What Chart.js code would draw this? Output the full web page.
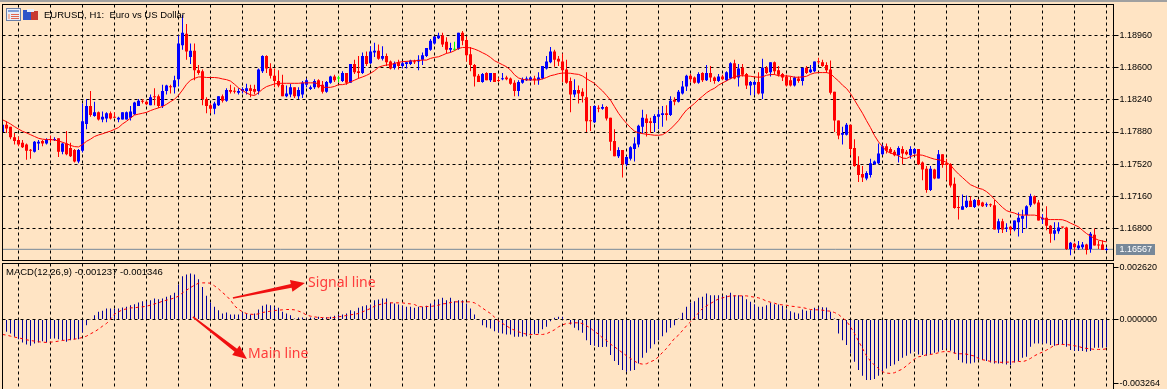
<!DOCTYPE html>
<html><head><meta charset="utf-8">
<style>
html,body{margin:0;padding:0;width:1167px;height:389px;overflow:hidden;background:#ffe4c4}
canvas{position:absolute;left:0}
#c1{top:0}#c2{top:261px}
#strip{position:absolute;left:0;top:0;width:1167px;height:2px;background:#a0a0a0}
.t{position:absolute;font:9.5px "Liberation Sans",sans-serif;color:#000;white-space:pre;line-height:14px}
#ic{position:absolute;left:6px;top:8px}
</style></head><body>
<canvas id="c1" width="1167" height="262"></canvas>
<canvas id="c2" width="1167" height="139"></canvas>
<div id="strip"></div>
<svg id="ic" width="33" height="14" viewBox="0 0 33 14">
<rect x=".5" y=".5" width="14" height="12" fill="#e8eef8" stroke="#6b7fa8"/><rect x="2" y="2" width="11" height="2" fill="#7f9fd8"/>
<path d="M5 6.5h8M5 8.5h8M5 10.5h8" stroke="#e2654f"/><path d="M2 6h2v5h-2z" fill="#f2b8a8"/>
<rect x="17" y="2" width="8" height="10" fill="#2f55c8"/><rect x="25" y="3" width="7" height="9" fill="#c83a30"/><rect x="21" y="1" width="7" height="3" fill="#e8eef8"/>
</svg>
<div class="t" style="left:44px;top:8px">EURUSD, H1:  Euro vs US Dollar</div>
<div class="t" style="left:6px;top:265px">MACD(12,26,9) -0.001237 -0.001346</div>
<script src="https://cdn.jsdelivr.net/npm/chart.js@4"></script>
<script>
// Prices are stored as pips above 1.16000; MACD values as millionths.
const priceBase = 1.16;
const priceTicks = [1.1896,1.186,1.1824,1.1788,1.1752,1.1716,1.168];
const macdTicks = [0.00262,0,-0.003264];
const bidPrice = 1.16567;
const bidLabel = "1.16567";

const openPips = [188,196,194,182,179,176,174,168,166,175,178,175,180,179,181,166,175,170,168,155,167,197,217,206,210,
202,203,209,205,202,202,202,204,208,217,223,222,218,228,228,217,234,239,238,247,285,298,272,279,257,
256,225,218,214,218,228,223,235,234,232,234,234,237,236,234,256,273,259,251,245,241,228,230,238,228,
230,241,236,238,246,241,233,243,250,248,245,254,243,264,256,254,273,265,277,279,270,273,267,260,266,
262,264,264,267,267,269,273,280,287,293,296,289,280,280,281,299,291,275,263,251,244,254,246,254,246,
247,249,248,243,234,243,246,246,248,246,248,259,266,278,270,267,258,245,230,235,233,227,201,199,215,
214,216,204,178,161,168,152,158,169,174,194,203,200,198,205,207,209,207,224,222,231,239,251,249,243,
254,246,254,249,245,250,246,248,265,249,260,253,240,241,244,231,260,255,266,257,253,250,246,240,248,
245,260,255,256,267,266,263,258,233,201,185,185,196,170,151,141,136,140,152,153,163,172,169,166,162,
169,166,162,164,169,154,147,123,146,136,163,153,152,130,104,101,104,111,104,112,109,106,107,106,79,
88,80,82,79,87,91,95,106,116,109,90,92,83,74,77,82,81,57,63,58,59,62,57,73,62,62,56];
const closePips = [196,192,182,178,174,171,167,167,177,177,175,180,179,180,166,175,163,161,155,168,200,217,207,210,202,
205,209,203,204,204,210,210,211,221,223,222,219,227,227,217,234,240,238,246,287,299,278,279,257,254,
225,217,214,220,228,223,235,233,233,234,236,237,234,233,258,273,259,251,245,240,228,231,238,228,235,
243,246,238,245,238,233,244,250,246,248,254,243,264,255,254,273,264,278,279,270,273,266,259,265,262,
265,266,268,266,269,274,282,290,295,296,286,280,282,280,299,290,274,263,250,244,253,246,254,244,245,
248,247,242,234,244,247,248,249,246,249,262,267,278,269,267,257,243,230,235,231,228,200,200,217,214,
216,203,177,161,168,152,160,171,175,195,204,198,198,206,208,209,207,223,222,233,239,251,247,243,253,
246,254,249,245,250,247,255,265,248,259,252,240,244,244,231,260,254,266,256,252,249,240,240,249,245,
260,254,258,267,266,262,257,232,201,184,187,196,169,150,140,137,142,153,155,164,172,167,165,162,170,
164,163,169,169,152,146,123,147,136,163,151,151,128,103,103,105,111,104,112,106,105,107,106,79,88,
79,81,79,89,92,94,105,116,108,89,92,83,74,78,81,81,57,64,59,61,62,56,74,61,61,56,57];
const highPips = [197,200,194,187,183,179,175,169,178,179,179,181,184,182,181,176,189,176,169,169,220,225,234,222,211,
211,210,211,210,205,210,211,217,222,225,225,223,230,237,230,241,241,241,251,296,319,309,287,287,263,
258,227,220,222,228,230,237,241,238,237,238,242,241,241,259,274,274,265,259,257,252,240,242,238,238,
245,248,240,247,247,245,245,251,252,251,256,254,264,269,273,277,278,284,288,286,284,276,268,267,269,
267,267,269,269,274,277,282,292,295,299,299,294,288,289,299,301,295,283,264,253,254,255,254,254,249,
254,251,249,246,246,249,250,250,251,255,262,273,283,280,273,276,269,249,247,240,237,255,217,218,218,
219,217,204,191,171,168,161,172,182,196,213,208,204,208,213,217,218,228,227,235,245,252,253,250,255,
255,263,262,250,253,252,256,266,269,264,264,254,245,246,255,270,262,266,267,262,254,252,250,250,250,
260,262,263,267,271,269,266,268,233,201,194,198,196,180,161,150,144,158,156,175,174,175,171,168,172,
172,168,172,170,169,155,150,150,147,168,163,158,153,137,116,118,117,116,113,113,110,109,108,112,91,
91,86,83,89,98,101,106,119,117,112,96,105,84,87,87,82,82,65,64,66,65,63,76,80,66,67,59];
const lowPips = [187,187,180,174,172,170,157,158,165,168,172,174,176,178,160,163,162,160,154,153,165,191,205,205,201,
199,199,202,204,199,202,202,201,207,217,220,218,218,218,215,215,230,231,231,239,280,269,264,246,252,
218,209,209,208,217,221,222,231,231,230,231,230,227,230,230,254,254,248,238,238,228,227,227,226,225,
226,238,235,236,237,231,232,242,244,244,244,241,243,253,248,253,262,264,272,269,268,262,258,258,258,
259,259,263,264,257,263,272,279,286,292,283,276,277,279,280,285,267,256,239,244,243,246,244,244,244,
246,246,241,228,228,242,245,245,241,241,247,258,265,261,262,244,242,210,227,220,221,188,189,198,210,
213,201,167,161,159,137,150,156,155,171,186,183,187,188,191,194,201,206,218,221,230,234,244,242,242,
244,245,244,242,244,246,245,247,247,239,250,236,229,229,230,225,253,250,252,250,245,239,239,239,243,
240,253,254,255,264,261,254,230,188,180,174,184,162,149,132,132,134,137,151,152,162,164,164,161,154,
152,162,158,163,151,134,120,122,135,136,148,134,126,102,90,101,103,104,103,105,104,104,104,79,75,
75,76,74,77,71,75,80,104,107,89,85,78,64,67,74,80,56,50,55,56,57,51,53,61,57,56,55];
const maPips = [201.7,199.5,197,194,191.3,188.8,187,185,183,181,180,179.5,179.5,179,178,176.5,175,173,171.7,171.3,174,177.6,180,183,184.7,
186,187.6,189,191,193,197,200,203.6,207,208,209,210,212,213.6,215,216.6,219,222,224.7,229,235,241.4,246,248,249.6,
249.6,249,249,249,248.5,247.4,246.6,245,241.4,237.4,234.4,231.8,229.6,228.8,232,235.9,238.8,240.3,241.8,242.5,242.5,242.5,242.5,242.5,242.5,
243,243,243,243,242,238,238,238,239,241,241,242,244,246,248,249.6,251.4,253.7,256.6,260.4,262,263,263.3,264.8,266,
266.7,267,267.4,267.8,268,268.5,268.5,270.4,271.5,272.2,274,276,277,279,281.5,282.6,282.6,282.2,280.8,279,276.7,274.5,271.5,267.8,265.5,
263.3,261,257.4,252,248.5,247,246.3,246.3,246.3,246.3,247.4,249,251,252,253.3,254,254,253.7,253,252.5,250.7,247.7,245,242.5,238,
234,229,223.7,216.3,209,203,197.7,192.9,189,187,186.2,185.5,185,184.4,184.4,185,187.7,191.4,195.9,200.7,207,212.6,216.3,220,224.4,
228,231.9,234.8,237,240.4,243,245.2,247.8,249.7,251,251,250.8,250.4,249.7,249.3,249.7,251.5,252.3,252.3,251,250.8,250.8,250.4,249.3,249.3,
249.7,250.4,252.6,254,254.5,254.5,254.5,253.4,249,245.2,240.4,236.7,231,223.7,216.3,209,200.7,192.9,184,177,171.7,166.6,164.3,163.2,161.4,
158.8,158.4,160.6,162,162.5,162,160.6,159,157.6,156.9,156,154,151,145.6,141,137,132.9,129,127,125,123.9,121.3,117.5,112.6,108,
103.6,100,98.4,97.3,95.4,95,95,95,95,94,91.3,90,90,90,90,89.8,88.3,86,84,81.9,78,74.4,71.4,69,67,66,65];
const macdMain = [-490,-625,-710,-879,-997,-1166,-1268,-1335,-1217,-1166,-1099,-1166,-963,-963,-997,-1065,-1132,-1048,-1014,-997,-659,-287,17,220,389,
439,558,558,558,558,608,642,727,777,862,930,930,980,1065,1031,1065,1149,1234,1352,1775,2197,2282,2332,2282,2045,
1656,1200,862,642,473,304,355,254,254,254,355,304,254,304,507,693,761,727,642,592,389,304,220,51,101,
101,51,101,85,135,85,118,135,186,254,254,304,473,423,592,676,727,761,980,1014,1065,1065,862,811,761,
693,642,642,592,642,642,693,811,930,1031,1099,980,1099,930,980,980,811,558,254,-17,-287,-406,-456,-592,-659,
-710,-761,-761,-879,-879,-879,-845,-761,-744,-710,-490,-372,-85,85,135,135,-34,-254,-423,-541,-676,-1048,-1301,-1335,-1403,
-1403,-1386,-1808,-2112,-2315,-2569,-2653,-2603,-2569,-2231,-1943,-1690,-1470,-1251,-1048,-845,-659,-423,-287,51,338,642,845,930,1099,
1149,1318,1234,1234,1234,1200,1234,1352,1234,1234,1200,1031,896,777,642,642,727,862,777,761,693,524,423,355,304,
507,439,473,592,608,625,608,389,51,-710,-1048,-1301,-1724,-2146,-2569,-2856,-3076,-3076,-3025,-2856,-2653,-2484,-2366,-2282,-2112,
-1943,-1842,-1724,-1639,-1775,-1808,-1842,-1775,-1690,-1639,-1555,-1470,-1589,-1724,-2062,-2180,-2231,-2231,-2180,-2062,-2062,-2112,-2180,-2231,-2231,
-2231,-2282,-2315,-2180,-2112,-1943,-1893,-1386,-1217,-1217,-1217,-1217,-1301,-1335,-1301,-1268,-1386,-1555,-1605,-1605,-1605,-1639,-1605,-1437,-1437,-1437,-1403];
const macdSignal = [-760,-794,-845,-896,-930,-980,-1031,-1065,-1099,-1132,-1149,-1166,-1149,-1132,-1099,-1065,-1048,-1014,-997,-963,-913,-845,-727,-625,-490,
-338,-203,17,270,389,490,541,592,592,625,642,676,727,794,845,930,980,1031,1099,1183,1352,1487,1622,1741,1842,
1859,1859,1842,1707,1555,1369,1200,980,693,524,389,304,270,254,287,355,389,423,456,473,490,507,507,490,423,
355,220,169,135,101,101,85,85,101,135,169,203,237,270,304,389,473,558,676,744,794,845,845,845,845,
845,811,794,760,659,642,659,659,693,727,794,811,862,896,896,896,896,896,845,727,575,439,304,118,-68,
-203,-321,-456,-541,-625,-693,-744,-760,-760,-760,-760,-727,-625,-524,-372,-270,-203,-186,-169,-169,-203,-321,-439,-608,-744,
-930,-1065,-1251,-1386,-1538,-1690,-1842,-1977,-2112,-2231,-2265,-2248,-2146,-2062,-1893,-1673,-1470,-1217,-963,-794,-558,-321,-118,85,338,
558,693,811,930,1048,1099,1149,1200,1200,1200,1200,1200,1166,1132,1099,1031,930,879,828,760,744,727,676,659,625,
608,558,507,490,490,473,439,423,355,254,85,-85,-372,-710,-1099,-1470,-1842,-2112,-2315,-2484,-2653,-2721,-2738,-2704,-2603,
-2518,-2349,-2180,-2011,-1893,-1859,-1791,-1775,-1741,-1690,-1639,-1622,-1639,-1707,-1741,-1741,-1758,-1808,-1859,-1977,-2045,-2079,-2129,-2146,-2163,
-2180,-2163,-2163,-2146,-2129,-2146,-2079,-1977,-1842,-1741,-1656,-1555,-1436,-1301,-1268,-1268,-1268,-1301,-1335,-1369,-1436,-1470,-1487,-1521,-1521,-1521,-1487];

// Callouts, given as [candle index, MACD value].
const signalArrow = {from:[57.6,0.00109], to:[75.6,0.00185]};
const mainArrow = {from:[47.6,0.00013], to:[61.1,-0.0020]};
const callouts = [
  {text:"Signal line", at:[76.4,0.00185]},
  {text:"Main line", at:[61.4,-0.00175]}
];

const px = p => priceBase + p/10000;
const mi = m => m/1e6;
const idxMax = 277.75;
const FONT = '"Liberation Sans", sans-serif';
const GRID = [3,3];
const noPad = s => {s.paddingTop=s.paddingBottom=s.paddingLeft=s.paddingRight=0};

const frame = {id:'frame', afterDraw(c){
  const a=c.chartArea, g=c.ctx; g.save(); g.strokeStyle='#000'; g.lineWidth=1; g.setLineDash([]);
  g.strokeRect(a.left,a.top,a.right-a.left,a.bottom-a.top); g.restore();
}};
const bidBox = {id:'bidBox', afterDraw(c){
  const y=Math.round(c.scales.y.getPixelForValue(bidPrice)-.5)+.5, g=c.ctx;
  g.save(); g.fillStyle='#778899'; g.fillRect(1116,y-5.5,39,11);
  g.fillStyle='#fff'; g.font='9px '+FONT; g.textBaseline='middle'; g.textAlign='left';
  g.fillText(bidLabel,1119.5,y); g.restore();
}};
function arrow(g,x0,y0,x1,y1){
  const d=Math.hypot(x1-x0,y1-y0), ux=(x1-x0)/d, uy=(y1-y0)/d, nx=-uy, ny=ux, hl=14, hw=6;
  const bx=x1-ux*hl, by=y1-uy*hl;
  g.beginPath();
  g.moveTo(x0+nx*.8,y0+ny*.8); g.lineTo(bx+nx*2,by+ny*2); g.lineTo(bx+nx*hw,by+ny*hw); g.lineTo(x1,y1);
  g.lineTo(bx-nx*hw,by-ny*hw); g.lineTo(bx-nx*2,by-ny*2); g.lineTo(x0-nx*.8,y0-ny*.8); g.closePath(); g.fill();
}
const notes = {id:'notes', afterDraw(c){
  const X=c.scales.x, Y=c.scales.y, g=c.ctx; g.save(); g.fillStyle='#f01010';
  [signalArrow,mainArrow].forEach(a=>arrow(g,X.getPixelForValue(a.from[0]),Y.getPixelForValue(a.from[1]),X.getPixelForValue(a.to[0]),Y.getPixelForValue(a.to[1])));
  g.fillStyle='#ff3b3b'; g.font='14px "Noto Sans", sans-serif'; g.textBaseline='middle'; g.textAlign='left';
  callouts.forEach(n=>g.fillText(n.text,X.getPixelForValue(n.at[0]),Y.getPixelForValue(n.at[1])));
  g.restore();
}};
const xAxis = {type:'linear',min:0,max:idxMax,offset:false,
  afterFit(s){s.height=0;noPad(s)},
  border:{display:false,dash:GRID},
  grid:{color:'#000',lineWidth:1,drawTicks:false},
  ticks:{display:false,stepSize:8,includeBounds:false,autoSkip:false}};
const base = {responsive:false,animation:false,events:[],
  plugins:{legend:{display:false},tooltip:{enabled:false}},
  datasets:{bar:{grouped:false,inflateAmount:0}}};
const idx = a => a.map((v,i)=>({x:i,y:v}));
const candleColor = i => openPips[i]===closePips[i] ? '#00ff00' : (closePips[i]>openPips[i] ? '#0000ff' : '#ff0000');
const wicks = lowPips.map((l,i)=>({x:i,y:[px(l),px(highPips[i])]}));
const bodies = openPips.map((o,i)=>({x:i,y:[px(Math.min(o,closePips[i])),px(Math.max(o,closePips[i]))]}));

new Chart(document.getElementById('c1'),{
  type:'bar',
  data:{datasets:[
    {type:'line',data:idx(maPips.map(px)),borderColor:'#ff0000',borderWidth:1,pointRadius:0,tension:0,order:0},
    {type:'line',data:[{x:0,y:bidPrice},{x:idxMax,y:bidPrice}],borderColor:'#778899',borderWidth:1,pointRadius:0,order:3},
    {data:wicks,barThickness:1,inflateAmount:0,backgroundColor:c=>candleColor(c.dataIndex),order:2},
    {data:bodies,barThickness:3,inflateAmount:0,minBarLength:1,backgroundColor:c=>candleColor(c.dataIndex),order:1}
  ]},
  options:{...base,
    layout:{autoPadding:false,padding:{left:2.5,top:4.5,right:0,bottom:1.5}},
    scales:{x:xAxis,
      y:{position:'right',min:px(44.2),max:px(330.7),
        afterFit(s){s.width=53.5;noPad(s)},
        afterBuildTicks(s){s.ticks=priceTicks.map(value=>({value}))},
        border:{display:false,dash:GRID},
        grid:{color:'#000',tickColor:'#000',tickLength:5,tickBorderDash:[]},
        ticks:{color:'#000',font:{family:FONT,size:9},padding:1,callback:v=>v.toFixed(5)}}}},
  plugins:[frame,bidBox]
});
new Chart(document.getElementById('c2'),{
  type:'bar',
  data:{datasets:[
    {type:'line',data:idx(macdSignal.map(mi)),borderColor:'#ff0000',borderWidth:1,borderDash:[3,3],pointRadius:0,tension:0,order:0},
    {data:idx(macdMain.map(mi)),barThickness:1,inflateAmount:0,backgroundColor:'#00009c',order:1}
  ]},
  options:{...base,
    layout:{autoPadding:false,padding:{left:2.5,top:2.5,right:0,bottom:5}},
    scales:{x:xAxis,
      y:{position:'right',min:-0.003834,max:0.002843,
        afterFit(s){s.width=53.5;noPad(s)},
        afterBuildTicks(s){s.ticks=macdTicks.map(value=>({value}))},
        border:{display:false,dash:GRID},
        grid:{color:c=>c.tick&&c.tick.value===0?'#000':'rgba(0,0,0,0)',tickColor:'#000',tickLength:5,tickBorderDash:[]},
        ticks:{color:'#000',font:{family:FONT,size:9},padding:1,callback:v=>v.toFixed(6)}}}},
  plugins:[frame,notes]
});
</script>
</body></html>
